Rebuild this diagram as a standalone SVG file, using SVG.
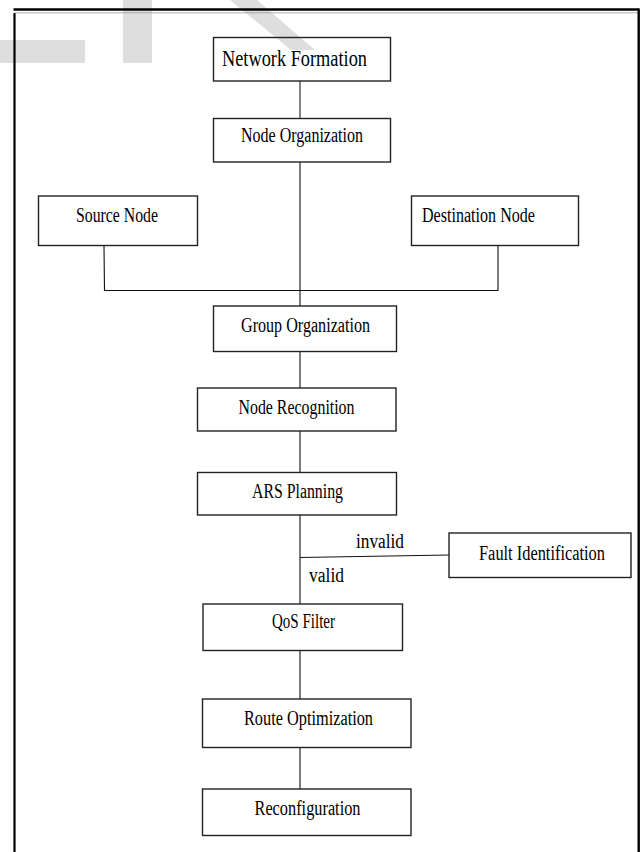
<svg xmlns="http://www.w3.org/2000/svg" width="643" height="852" viewBox="0 0 643 852">
<style>
.box{fill:none;stroke:#222;stroke-width:1.4}
.ln{fill:none;stroke:#111;stroke-width:1.1}
.t{font-family:"Liberation Serif","DejaVu Serif","Times New Roman",serif;font-size:20px;fill:#000}
.wm{fill:#dedede}
</style>
<rect width="643" height="852" fill="#ffffff"/>
<g id="watermark">
<rect class="wm" x="0" y="40" width="85" height="23"/>
<rect class="wm" x="123" y="0" width="29" height="63"/>
<polygon class="wm" points="230,0 257,0 315,50 291,50"/>
</g>
<g id="frame">
<line x1="14.5" y1="13" x2="14.5" y2="852" stroke="#000" stroke-width="2.2"/>
<line x1="13.5" y1="9.5" x2="639" y2="9.5" stroke="#000" stroke-width="2.6"/>
<line x1="15" y1="12.8" x2="638" y2="12.8" stroke="#999" stroke-width="0.8"/>
<line x1="638.7" y1="8.5" x2="638.7" y2="852" stroke="#000" stroke-width="2.4"/>
</g>
<g id="connectors">
<line x1="300" y1="81" x2="300" y2="118" stroke="#666" stroke-width="1.6"/>
<line class="ln" x1="300" y1="162" x2="300" y2="306"/>
<polyline class="ln" points="104,246 104.5,290.5 498,290.5 498,246"/>
<line class="ln" x1="300" y1="352" x2="300" y2="388"/>
<line class="ln" x1="300" y1="431" x2="300" y2="472"/>
<line class="ln" x1="300" y1="515" x2="300" y2="604"/>
<line class="ln" x1="300" y1="557.5" x2="449" y2="555"/>
<line class="ln" x1="300" y1="651" x2="300" y2="699"/>
<line class="ln" x1="300" y1="748" x2="300" y2="789"/>
<text class="t" x="356" y="548" textLength="48" lengthAdjust="spacingAndGlyphs">invalid</text>
<text class="t" x="309" y="582" textLength="35" lengthAdjust="spacingAndGlyphs">valid</text>
</g>
<g id="network-formation">
<rect class="box" x="213.5" y="37.5" width="177" height="43.5"/>
<text class="t" x="222" y="66" style="font-size:24px" textLength="145" lengthAdjust="spacingAndGlyphs">Network Formation</text>
</g>
<g id="node-organization">
<rect class="box" x="213.5" y="118.5" width="177" height="43.5"/>
<text class="t" x="241" y="142" textLength="122" lengthAdjust="spacingAndGlyphs">Node Organization</text>
</g>
<g id="source-node">
<rect class="box" x="38.5" y="196" width="159" height="49.5"/>
<text class="t" x="76" y="222" textLength="82" lengthAdjust="spacingAndGlyphs">Source Node</text>
</g>
<g id="destination-node">
<rect class="box" x="411.5" y="196" width="167" height="49.5"/>
<text class="t" x="422" y="222" textLength="113" lengthAdjust="spacingAndGlyphs">Destination Node</text>
</g>
<g id="group-organization">
<rect class="box" x="213.5" y="306" width="183" height="45.5"/>
<text class="t" x="241" y="332" textLength="129" lengthAdjust="spacingAndGlyphs">Group Organization</text>
</g>
<g id="node-recognition">
<rect class="box" x="197.5" y="388" width="198.5" height="43"/>
<text class="t" x="238.5" y="414" textLength="116" lengthAdjust="spacingAndGlyphs">Node Recognition</text>
</g>
<g id="ars-planning">
<rect class="box" x="197.5" y="472.5" width="199" height="42.5"/>
<text class="t" x="252" y="498" textLength="91" lengthAdjust="spacingAndGlyphs">ARS Planning</text>
</g>
<g id="fault-identification">
<rect class="box" x="449" y="533" width="182" height="44.5"/>
<text class="t" x="479" y="560" textLength="126" lengthAdjust="spacingAndGlyphs">Fault Identification</text>
</g>
<g id="qos-filter">
<rect class="box" x="203" y="604" width="199.5" height="46.5"/>
<text class="t" x="272" y="628" textLength="63" lengthAdjust="spacingAndGlyphs">QoS Filter</text>
</g>
<g id="route-optimization">
<rect class="box" x="202.5" y="699" width="208.5" height="48.5"/>
<text class="t" x="244" y="725" textLength="129" lengthAdjust="spacingAndGlyphs">Route Optimization</text>
</g>
<g id="reconfiguration">
<rect class="box" x="202.5" y="789" width="208.5" height="46.5"/>
<text class="t" x="254.5" y="815" textLength="106" lengthAdjust="spacingAndGlyphs">Reconfiguration</text>
</g>
</svg>
